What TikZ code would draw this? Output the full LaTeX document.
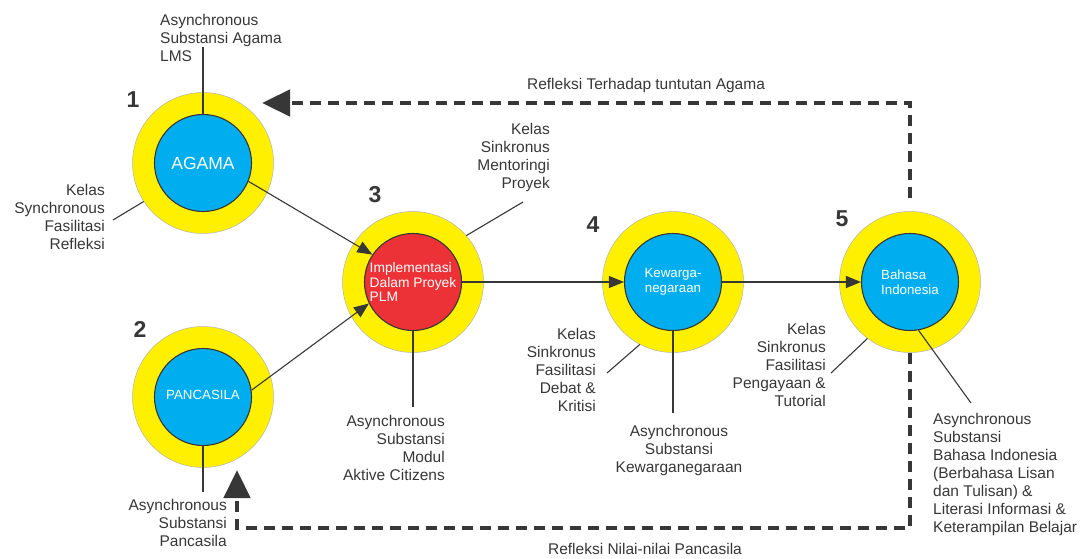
\documentclass[tikz,border=0pt]{standalone}
\usepackage{fontspec}
\setmainfont{Liberation Sans}
\usetikzlibrary{arrows.meta}
\definecolor{ring}{RGB}{255,240,0}
\definecolor{core}{RGB}{0,174,239}
\definecolor{corered}{RGB}{237,50,55}
\definecolor{ink}{RGB}{55,55,55}
\begin{document}
\begin{tikzpicture}[x=1pt,y=-1pt,
  ringc/.style={circle,fill=ring,draw=black!30,line width=0.5pt,minimum size=141pt,inner sep=0pt},
  corec/.style={circle,fill=core,draw=ink,line width=1.1pt,minimum size=97pt,inner sep=0pt,text=white,font=\fontsize{13.3}{14.8}\selectfont},
  lbl/.style={font=\fontsize{15.5}{18}\selectfont,text=ink,inner sep=0pt},
  num/.style={font=\fontsize{23}{23}\selectfont\bfseries,text=ink,inner sep=0pt},
  conn/.style={draw=ink,line width=1.1pt},
  arr/.style={conn,-{Triangle[length=15pt,width=12pt]}},
  dasharr/.style={draw=ink,line width=4.6pt,dash pattern=on 11pt off 7pt,-{Triangle[length=28pt,width=26pt]}}
]
\useasboundingbox (0,0) rectangle (1084,559);

% circles
\node[ringc] (o1) at (203,163) {};
\node[corec,font=\fontsize{17.5}{18}\selectfont] (i1) at (203,163) {AGAMA};
\node[ringc] (o2) at (203,397) {};
\node[corec] (i2) at (203,397) {\raisebox{4pt}{PANCASILA}};
\node[ringc] (o3) at (413,282) {};
\node[corec,fill=corered,align=left,font=\fontsize{13.8}{14.7}\selectfont] (i3) at (413,282) {Implementasi\\Dalam Proyek\\PLM};
\node[ringc] (o4) at (673,282) {};
\node[corec,align=center] (i4) at (673,282) {Kewarga-\\negaraan};
\node[ringc] (o5) at (910,282) {};
\node[corec,align=left] (i5) at (910,282) {Bahasa\\Indonesia};

% numbers
\node[num] (n1) at (133,100) {1};
\node[num] (n2) at (140,329) {2};
\node[num] (n3) at (375,195) {3};
\node[num] (n4) at (593,225) {4};
\node[num] (n5) at (842,219) {5};

% main arrows
\draw[arr] (i1.-22) -- (i3.146);
\draw[arr] (i2.8) -- (i3.206);
\draw[arr] (i3.east) -- (i4.west);
\draw[arr] (i4.east) -- (i5.west);

% dashed feedback arrows
\coordinate (t1) at (262,103);
\coordinate (b1) at (237,528);
\coordinate (t2) at (237,470);
\draw[dasharr] ([yshift=13pt]o5.north) |- (t1);
\draw[dasharr] (o5.south) |- (b1) -- (t2);
\node[lbl,anchor=north] (r1) at (646,78) {Refleksi Terhadap tuntutan Agama};
\node[lbl,anchor=north] (r2) at (645,543) {Refleksi Nilai-nilai Pancasila};

% labels
\node[lbl,anchor=north west,align=left] (a1) at (160,14) {Asynchronous\\Substansi Agama\\LMS};
\coordinate (e1) at (203,47);
\draw[conn] (i1.north) -- (e1);

\node[lbl,anchor=north east,align=right] (k1) at (105,184) {Kelas\\Synchronous\\Fasilitasi\\Refleksi};
\coordinate (e2) at (113,220);
\draw[conn] (o1.213) -- (e2);

\node[lbl,anchor=north east,align=right] (a2) at (227,499) {Asynchronous\\Substansi\\Pancasila};
\coordinate (e3) at (203,492);
\draw[conn] (i2.south) -- (e3);

\node[lbl,anchor=north east,align=right] (k3) at (550,123) {Kelas\\Sinkronus\\Mentoringi\\Proyek};
\coordinate (e4) at (523,202);
\draw[conn] (o3.41) -- (e4);

\node[lbl,anchor=north east,align=right] (a3) at (445,415) {Asynchronous\\Substansi\\Modul\\Aktive Citizens};
\coordinate (e5) at (413,407);
\draw[conn] (i3.south) -- (e5);

\node[lbl,anchor=north east,align=right] (k4) at (596,328) {Kelas\\Sinkronus\\Fasilitasi\\Debat \&\\Kritisi};
\coordinate (e6) at (607,373);
\draw[conn] (o4.242) -- (e6);

\node[lbl,anchor=north,align=center] (a4) at (679,425) {Asynchronous\\Substansi\\Kewarganegaraan};
\coordinate (e7) at (673,413);
\draw[conn] (i4.south) -- (e7);

\node[lbl,anchor=north east,align=right] (k5) at (826,323) {Kelas\\Sinkronus\\Fasilitasi\\Pengayaan \&\\Tutorial};
\coordinate (e8) at (831,373);
\draw[conn] (o5.233) -- (e8);

\node[lbl,anchor=north west,align=left] (a5) at (933,413) {Asynchronous\\Substansi\\Bahasa Indonesia\\(Berbahasa Lisan\\dan Tulisan) \&\\Literasi Informasi \&\\Keterampilan Belajar};
\coordinate (e9) at (971,403);
\draw[conn] (i5.-80) -- (e9);
\end{tikzpicture}
\end{document}
